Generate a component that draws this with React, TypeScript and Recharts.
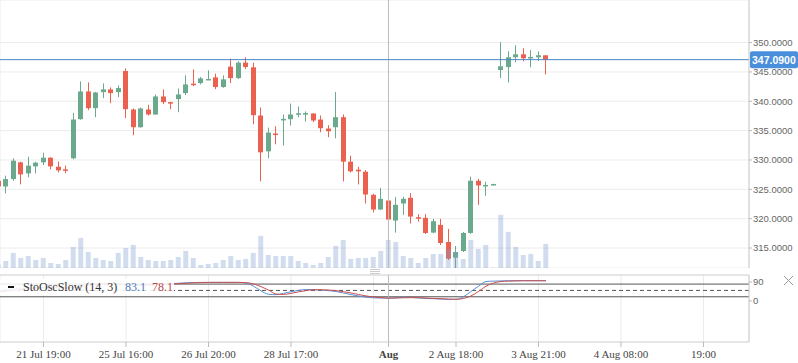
import React from "react";
import {
  ComposedChart,
  Bar,
  Line,
  XAxis,
  YAxis,
  CartesianGrid,
  ReferenceLine,
} from "recharts";

// candles, one per bar index
const OPEN = [
  326.46, 325.49, 326.75, 329.6, 327.71, 328.91, 329.6, 330.39, 328.85, 328.4,
  330.28, 336.95, 341.67, 338.83, 341.56, 342.02, 341.56, 345.15, 338.6, 335.58,
  338.6, 337.75, 340.82, 339.85, 340.37, 341.39, 343.0, 343.1, 343.7, 344.07,
  342.42, 345.89, 343.95, 346.58, 345.78, 337.57, 331.47, 334.5, 336.9, 336.95,
  337.85, 337.9, 337.92, 336.89, 335.35, 335.58, 337.29, 329.71, 328.34, 328.0,
  324.07, 321.56, 323.1, 319.68, 322.59, 323.56, 320.25, 320.14, 317.63, 318.94,
  316.03, 313.36, 314.5, 317.57, 326.46, 325.66, 325.85, 345.32, 345.83, 347.49,
  348.0, 347.45, 347.49, 347.83,
];
const HIGH = [
  326.8, 327.32, 330.28, 329.71, 330.56, 329.71, 331.25, 330.45, 329.71, 329.03,
  338.03, 343.39, 343.21, 341.6, 343.04, 342.36, 342.7, 345.61, 338.77, 338.94,
  339.4, 341.16, 342.02, 339.91, 342.19, 344.41, 345.44, 344.13, 345.27, 344.7,
  344.41, 347.26, 346.8, 347.49, 346.58, 338.94, 335.52, 335.75, 337.75, 339.62,
  339.11, 338.26, 337.95, 337.57, 335.92, 341.56, 337.75, 330.74, 328.85, 328.28,
  324.24, 325.26, 323.33, 323.67, 323.73, 324.35, 320.76, 320.76, 319.97, 319.97,
  318.26, 315.35, 317.74, 327.15, 326.8, 326.29, 325.95, 350.05, 348.51, 349.54,
  349.03, 348.74, 348.51, 347.85,
];
const LOW = [
  325.2, 324.3, 326.46, 325.84, 327.03, 327.71, 329.14, 328.4, 327.88, 327.77,
  330.11, 336.85, 338.48, 337.29, 340.54, 339.68, 340.71, 337.12, 334.21, 335.5,
  337.57, 337.7, 339.51, 338.66, 338.14, 341.05, 342.59, 342.87, 343.67, 342.07,
  342.3, 343.1, 343.78, 345.49, 336.09, 326.35, 330.28, 332.67, 332.45, 335.86,
  337.29, 336.55, 336.43, 334.72, 333.87, 333.7, 326.35, 327.88, 325.83, 322.59,
  321.05, 321.5, 316.21, 317.63, 320.65, 319.17, 319.51, 317.4, 317.52, 315.52,
  312.96, 311.6, 314.32, 317.4, 322.36, 323.9, 325.8, 343.95, 343.21, 346.63,
  346.8, 345.78, 346.86, 344.58,
];
const CLOSE = [
  325.49, 326.75, 329.88, 327.55, 329.03, 329.54, 330.39, 328.91, 328.23, 328.3,
  336.89, 341.67, 338.83, 341.5, 342.02, 341.39, 342.25, 338.66, 335.58, 338.77,
  337.75, 340.82, 339.85, 339.75, 341.16, 342.87, 342.9, 343.9, 343.8, 342.42,
  343.73, 343.95, 346.58, 345.83, 337.63, 331.3, 334.67, 334.4, 337.0, 337.75,
  337.95, 337.99, 336.72, 335.41, 334.9, 337.29, 329.71, 328.06, 328.06, 324.12,
  321.56, 323.38, 319.85, 322.36, 323.38, 320.36, 320.1, 317.57, 319.57, 315.86,
  313.19, 314.32, 317.57, 326.46, 325.66, 325.75, 325.9, 345.95, 347.49, 348.0,
  347.32, 347.55, 347.83, 347.09,
];
const VOLUME = [
  132, 280, 600, 400, 480, 320, 400, 200, 160, 320, 840, 1200, 640, 400, 320,
  280, 600, 800, 920, 440, 320, 280, 280, 320, 440, 680, 400, 120, 160, 200, 320,
  480, 320, 360, 600, 1280, 520, 480, 480, 480, 280, 200, 120, 200, 440, 880,
  1120, 360, 400, 400, 440, 680, 1120, 1040, 480, 400, 200, 400, 560, 560, 750,
  640, 360, 1120, 760, 920, 20, 2120, 1440, 840, 520, 560, 280, 960,
];
// slow stochastic %K and %D
const STO_K = [
  48, 52, 58, 60, 62, 63, 65, 64, 62, 60, 68, 76, 80, 80, 81, 80, 79, 76, 74, 75,
  77, 79, 80, 82, 84, 86, 87, 88, 88, 88, 88, 88, 88, 85, 70, 48, 32, 30, 36, 44,
  50, 54, 54, 52, 49, 45, 38, 30, 24, 18, 15, 14, 13, 15, 18, 17, 14, 12, 11, 9,
  8, 8, 20, 45, 70, 92, 94, 95, 96, 96, 96, 96, 96, 96,
];
const STO_D = [
  44, 46, 50, 54, 57, 60, 62, 63, 63, 62, 63, 68, 74, 78, 80, 80, 80, 78, 76, 75,
  75, 77, 78, 80, 82, 84, 86, 87, 88, 88, 88, 88, 88, 87, 81, 68, 52, 33, 31, 36,
  43, 49, 53, 53, 52, 49, 44, 38, 31, 24, 19, 16, 14, 14, 15, 16, 16, 14, 12, 11,
  9, 8, 12, 24, 45, 70, 85, 92, 94, 95, 96, 96, 96, 96,
];

const GRID_IDX = [6, 17, 28, 39, 50, 61, 72, 83, 94];
const LABEL_IDX = [6, 17, 28, 39, 52, 61, 72, 83, 94];
const LABELS: Record<number, string> = {
  6: "21 Jul 19:00",
  17: "25 Jul 16:00",
  28: "26 Jul 20:00",
  39: "28 Jul 17:00",
  52: "Aug",
  61: "2 Aug 18:00",
  72: "3 Aug 21:00",
  83: "4 Aug 08:00",
  94: "19:00",
};
const CROSS_IDX = 52;
const PRICE_TICKS = [315, 320, 325, 330, 335, 340, 345, 350];
const LAST_PRICE = 347.09;
const STO_TICKS = [0, 90];
const STO_LEVELS = [80, 50, 20];

const X_DOMAIN = [0.2, 100.067];
const GREEN = "#6aa98c";
const RED = "#ea6150";

const data = OPEN.map((o, i) => ({
  i,
  open: o,
  high: HIGH[i],
  low: LOW[i],
  close: CLOSE[i],
  volume: VOLUME[i],
  k: STO_K[i],
  d: STO_D[i],
}));

const Candle = (props: any) => {
  const { x, y, width, height, payload } = props;
  if (x == null || y == null) return null;
  const { open, close, high, low } = payload;
  const color = close >= open ? GREEN : RED;
  const r = high - low > 0 ? height / (high - low) : 0;
  const yO = y + (high - open) * r;
  const yC = y + (high - close) * r;
  const top = Math.min(yO, yC);
  const h = Math.max(Math.abs(yO - yC), 1.5);
  const cx = Math.floor(x + width / 2) + 0.5;
  return (
    <g>
      <line x1={cx} x2={cx} y1={y} y2={y + height} stroke={color} strokeWidth={1} />
      <rect x={cx - 2.5} y={top} width={5} height={h} fill={color} />
    </g>
  );
};

const PriceTag = (props: any) => {
  const vb = props.viewBox;
  if (!vb) return null;
  const x = vb.x + vb.width + 1;
  return (
    <g>
      <rect x={x} y={vb.y - 8.5} width={48} height={17} rx={2} fill="#4a8fdc" />
      <text
        x={x + 2}
        y={vb.y + 4}
        fill="#fff"
        fontWeight="bold"
        fontSize={10.5}
        fontFamily="Liberation Sans"
      >
        {LAST_PRICE.toFixed(4)}
      </text>
    </g>
  );
};

const XTick = (props: any) => {
  const { x, y, payload } = props;
  const v = payload.value;
  return (
    <text
      x={x}
      y={y}
      dy={8.5}
      textAnchor="middle"
      fontFamily="Liberation Serif"
      fontSize={11}
      fill="#444"
      fontWeight={v === CROSS_IDX ? "bold" : "normal"}
    >
      {LABELS[v]}
    </text>
  );
};

const axisTick = { fontSize: 9.5, fill: "#666", fontFamily: "Liberation Sans" };

export default function App() {
  return (
    <div
      style={{
        position: "absolute",
        left: 0,
        top: 0,
        width: 798,
        height: 363,
        background: "#fff",
      }}
    >
      <ComposedChart
        width={798}
        height={268}
        data={data}
        margin={{ top: 0, right: 0, bottom: 0, left: 0 }}
      >
        <CartesianGrid stroke="#ececec" />
        <XAxis
          dataKey="i"
          type="number"
          domain={X_DOMAIN}
          allowDataOverflow
          ticks={GRID_IDX}
          height={0}
          tick={false}
          tickLine={false}
          axisLine={{ stroke: "#c8c8c8" }}
        />
        <XAxis xAxisId="v" dataKey="i" type="number" domain={X_DOMAIN} allowDataOverflow hide />
        <YAxis
          orientation="right"
          width={49}
          domain={[311.6, 357.25]}
          allowDataOverflow
          ticks={PRICE_TICKS}
          tickFormatter={(v: number) => v.toFixed(4)}
          tickSize={3}
          tickMargin={1}
          axisLine={{ stroke: "#ccc" }}
          tickLine={{ stroke: "#bbb" }}
          tick={axisTick}
        />
        <YAxis yAxisId="v" hide domain={[0, 10680]} />
        <Bar
          dataKey={(d: any) => [d.low, d.high]}
          shape={Candle}
          barSize={5}
          isAnimationActive={false}
        />
        <Bar
          xAxisId="v"
          yAxisId="v"
          dataKey="volume"
          barSize={5}
          fill="#7c9fcf"
          fillOpacity={0.35}
          isAnimationActive={false}
        />
        <ReferenceLine x={CROSS_IDX} stroke="#bdbdbd" />
        <ReferenceLine y={LAST_PRICE} stroke="#4a86c8" label={PriceTag} />
      </ComposedChart>

      <div style={{ position: "absolute", left: 0, top: 268 }}>
        <ComposedChart
          width={798}
          height={95}
          data={data}
          margin={{ top: 7, right: 0, bottom: 0, left: 0 }}
        >
          <CartesianGrid xAxisId="g" stroke="#ececec" horizontal={false} />
          <XAxis
            xAxisId="g"
            dataKey="i"
            type="number"
            domain={X_DOMAIN}
            allowDataOverflow
            ticks={GRID_IDX}
            hide
          />
          <XAxis
            dataKey="i"
            type="number"
            domain={X_DOMAIN}
            allowDataOverflow
            ticks={LABEL_IDX}
            tick={<XTick />}
            tickSize={5}
            height={21}
            axisLine={{ stroke: "#ccc" }}
            tickLine={{ stroke: "#bbb" }}
          />
          <YAxis
            orientation="right"
            width={49}
            domain={[-194, 123]}
            allowDataOverflow
            ticks={STO_TICKS}
            tickSize={3}
            tickMargin={1}
            axisLine={{ stroke: "#ccc" }}
            tickLine={{ stroke: "#bbb" }}
            tick={axisTick}
          />
          <ReferenceLine y={123} stroke="#ccc" />
          {STO_LEVELS.map((lv) => (
            <ReferenceLine
              key={lv}
              y={lv}
              stroke="#555"
              strokeDasharray={lv === 50 ? "4 3" : undefined}
            />
          ))}
          <ReferenceLine x={CROSS_IDX} stroke="#bdbdbd" />
          <Line
            dataKey="k"
            type="monotone"
            stroke="#5b8fd6"
            strokeWidth={1}
            dot={false}
            isAnimationActive={false}
          />
          <Line
            dataKey="d"
            type="monotone"
            stroke="#c9514f"
            strokeWidth={1}
            dot={false}
            isAnimationActive={false}
          />
        </ComposedChart>
      </div>

      {/* legend of the oscillator pane */}
      <div
        style={{
          position: "absolute",
          left: 0,
          top: 279,
          width: 174,
          height: 16,
          background: "rgba(255,255,255,0.88)",
          fontFamily: "Liberation Serif",
          fontSize: 12,
          lineHeight: "16px",
          whiteSpace: "nowrap",
        }}
      >
        <span
          style={{
            position: "absolute",
            left: 8,
            top: 7,
            width: 6,
            height: 2,
            background: "#111",
          }}
        />
        <span style={{ position: "absolute", left: 23, color: "#333" }}>
          StoOscSlow (14, 3)
        </span>
        <span style={{ position: "absolute", left: 125, color: "#4a7ebb" }}>83.1</span>
        <span style={{ position: "absolute", left: 152, color: "#b94a48" }}>78.1</span>
      </div>

      <svg
        width={798}
        height={363}
        style={{ position: "absolute", left: 0, top: 0, pointerEvents: "none" }}
      >
        <g stroke="#ccc" strokeWidth={1}>
          <line x1={370} x2={380} y1={269.5} y2={269.5} />
          <line x1={370} x2={380} y1={271.5} y2={271.5} />
          <line x1={370} x2={380} y1={273.5} y2={273.5} />
        </g>
        <g stroke="#999" strokeWidth={1}>
          <line x1={784} x2={793} y1={276} y2={285} />
          <line x1={793} x2={784} y1={276} y2={285} />
        </g>
      </svg>
    </div>
  );
}
